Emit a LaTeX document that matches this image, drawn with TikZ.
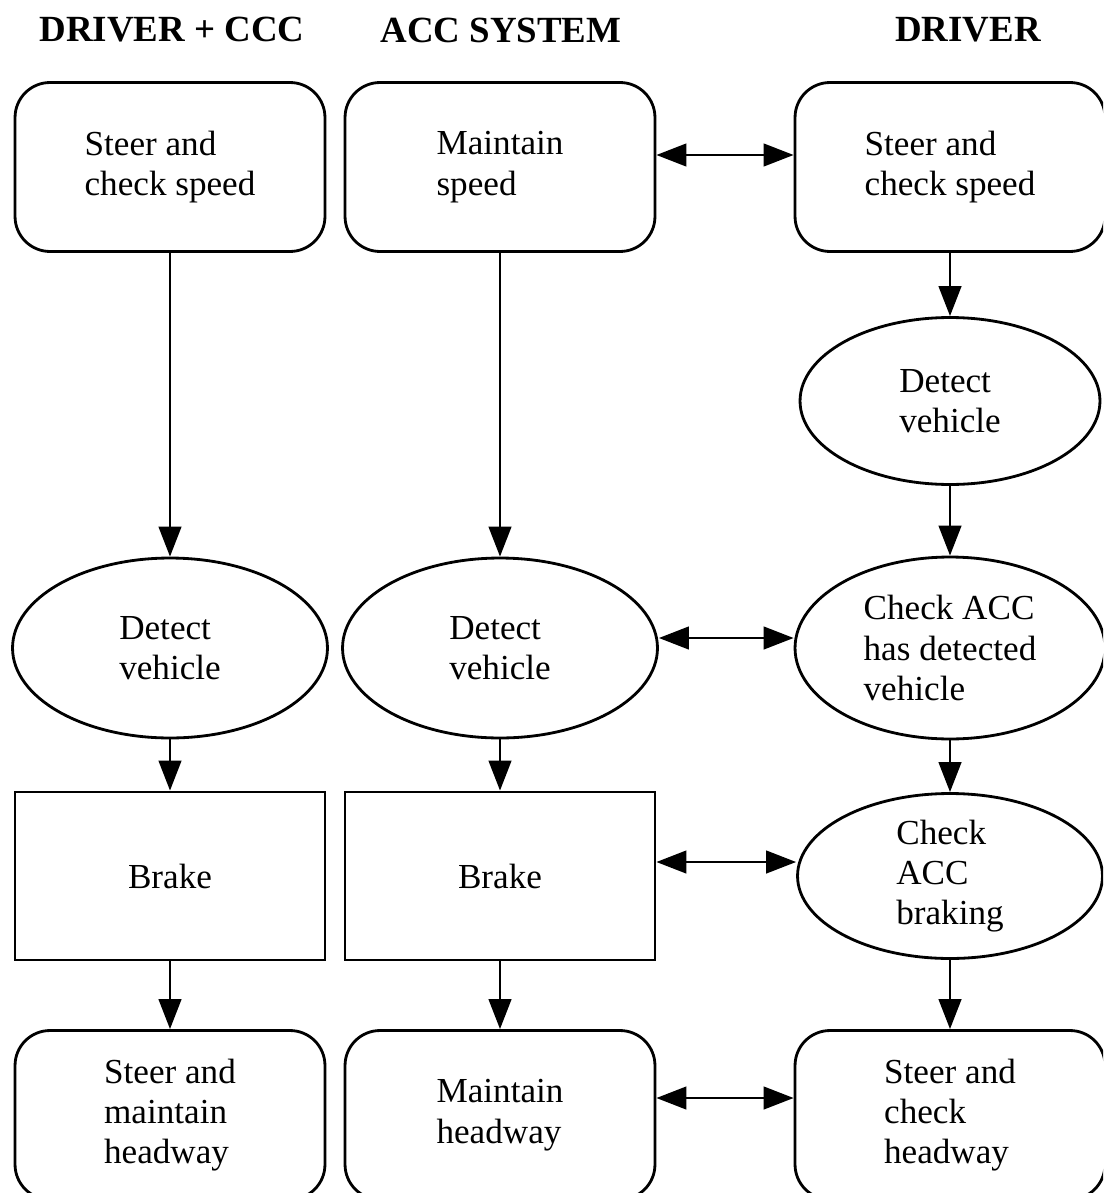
\documentclass[tikz,border=0pt]{standalone}
\usepackage{fontspec}
\setmainfont{Liberation Serif}
\usetikzlibrary{shapes.geometric,arrows.meta}

\tikzset{
  rbox/.style={draw, line width=1.6pt, rounded corners=0.7cm, minimum width=6.2cm, minimum height=3.38cm, align=left},
  sbox/.style={draw, line width=1.6pt, rectangle, minimum width=6.2cm, minimum height=3.36cm},
  oval/.style={draw, line width=1.6pt, ellipse, inner sep=0pt, minimum width=6.3cm, minimum height=3.6cm, align=left},
  head/.style={font=\fontsize{21pt}{25pt}\selectfont\bfseries},
  flow/.style={line width=1.6pt, -{Triangle[length=0.6cm,width=0.45cm]}},
  both/.style={line width=1.6pt, {Triangle[length=0.6cm,width=0.45cm]}-{Triangle[length=0.6cm,width=0.45cm]}}
}

\begin{document}
\begin{tikzpicture}[x=0.02cm, y=-0.02cm, every node/.append style={font=\fontsize{20pt}{23pt}\selectfont}]
\useasboundingbox (0,0) rectangle (1103,1193);
\clip (0,0) rectangle (1103,1193);

% column heads
\node[head] (0) at (172,30) {DRIVER + CCC};
\node[head] (1) at (501,30) {ACC SYSTEM};
\node[head] (2) at (968,30) {DRIVER};

% top row
\node[rbox] (3) at (170,167) {Steer and\\check speed};
\node[rbox] (4) at (500,167) {Maintain\\speed};
\node[rbox] (5) at (950,167) {Steer and\\check speed};

\node[oval, minimum width=6.0cm, minimum height=3.34cm] (6) at (950,401) {Detect\\vehicle};

% detect row
\node[oval] (7) at (170,648) {Detect\\vehicle};
\node[oval] (8) at (500,648) {Detect\\vehicle};
\node[oval, minimum width=6.2cm, minimum height=3.64cm] (9) at (950,648) {Check ACC\\has detected\\vehicle};

% brake row
\node[sbox] (10) at (170,876) {Brake};
\node[sbox] (11) at (500,876) {Brake};
\node[oval, minimum width=6.1cm, minimum height=3.3cm] (12) at (950,876) {Check\\ACC\\braking};

% bottom row
\node[rbox] (13) at (170,1115) {Steer and\\maintain\\headway};
\node[rbox] (14) at (500,1115) {Maintain\\headway};
\node[rbox] (15) at (950,1115) {Steer and\\check\\headway};

\draw[flow] (3) -- (7);
\draw[flow] (7) -- (10);
\draw[flow] (10) -- (13);

\draw[flow] (4) -- (8);
\draw[flow] (8) -- (11);
\draw[flow] (11) -- (14);

\draw[flow] (5) -- (6);
\draw[flow] (6) -- (9);
\draw[flow] (9) -- (12);
\draw[flow] (12) -- (15);

\draw[both] ([yshift=0.24cm]4.east) -- ([yshift=0.24cm]5.west);
\draw[both] ([yshift=0.2cm]8.east) -- ([yshift=0.2cm]9.west);
\draw[both] ([yshift=0.28cm]11.east) -- ([yshift=0.28cm]12.west);
\draw[both] ([yshift=0.34cm]14.east) -- ([yshift=0.34cm]15.west);
\end{tikzpicture}
\end{document}
